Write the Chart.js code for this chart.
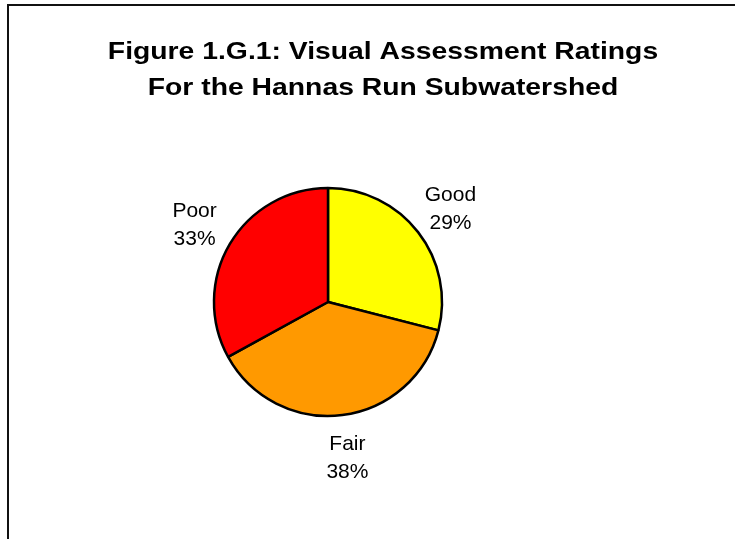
<!DOCTYPE html>
<html>
<head>
<meta charset="utf-8">
<script src="https://cdn.jsdelivr.net/npm/chart.js@4"></script>
<style>
    html, body { margin: 0; padding: 0; background: #fff; }
    #wrap { position: relative; width: 735px; height: 539px; }
    #frame {
        position: absolute; left: 7px; top: 4px; right: 0; bottom: 0;
        border-left: 2px solid #111; border-top: 2px solid #111;
    }
    canvas { position: absolute; left: 0; top: 0; }
</style>
</head>
<body>
<div id="wrap">
    <div id="frame"></div>
    <canvas id="pie-chart" width="735" height="539"></canvas>
</div>
<script>
// data
const titleLines = ["Figure 1.G.1: Visual Assessment Ratings", "For the Hannas Run Subwatershed"];
const categories = ["Good", "Fair", "Poor"];
const percents = [29, 38, 33];
const sliceColors = ["#FFFF00", "#FF9900", "#FF0000"];

// title + outside labels drawn on the canvas
const labelPlugin = {
    id: 'sliceLabels',
    afterDraw(chart) {
        const ctx = chart.ctx;
        ctx.save();
        ctx.fillStyle = '#000';
        ctx.textAlign = 'center';
        ctx.textBaseline = 'alphabetic';

        // the original title is drawn a bit wide
        ctx.font = 'bold 24px "Liberation Sans", Arial, sans-serif';
        titleLines.forEach((line, i) => {
            ctx.save();
            ctx.translate(383, 59 + i * 36);
            ctx.scale(1.18, 1);
            ctx.fillText(line, 0, 0);
            ctx.restore();
        });

        ctx.font = '21px "Liberation Sans", Arial, sans-serif';
        const meta = chart.getDatasetMeta(0);
        meta.data.forEach((arc, i) => {
            const mid = (arc.startAngle + arc.endAngle) / 2;
            const dist = arc.outerRadius + 41;
            const x = arc.x + Math.cos(mid) * dist;
            const y = arc.y + Math.sin(mid) * dist;
            ctx.fillText(categories[i], x, y - 6);
            ctx.fillText(percents[i] + '%', x, y + 22);
        });
        ctx.restore();
    }
};

new Chart(document.getElementById('pie-chart').getContext('2d'), {
    type: 'pie',
    data: {
        labels: categories,
        datasets: [{
            data: percents,
            backgroundColor: sliceColors,
            borderColor: '#000',
            borderWidth: 2.5
        }]
    },
    options: {
        responsive: false,
        animation: false,
        radius: 114,
        layout: { padding: { left: 100, right: 179, top: 120, bottom: 55 } },
        plugins: {
            legend: { display: false },
            title: { display: false },
            tooltip: { enabled: false }
        }
    },
    plugins: [labelPlugin]
});
</script>
</body>
</html>
